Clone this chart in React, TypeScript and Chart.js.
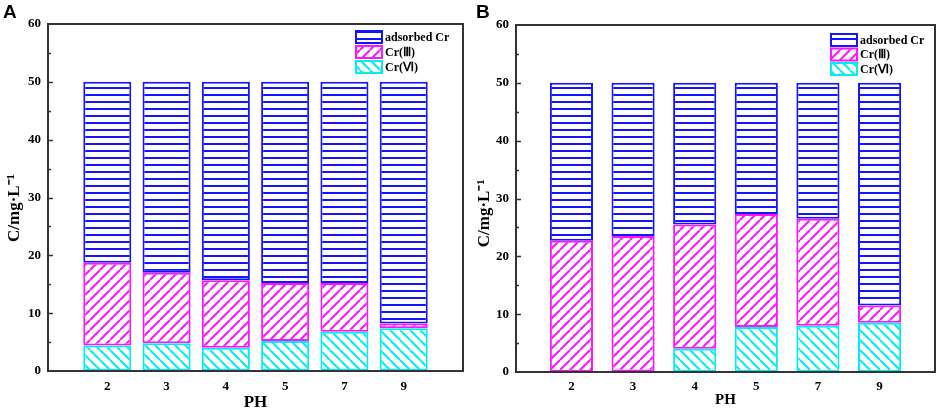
import { useEffect, useRef } from 'react';
import { Chart, registerables } from 'chart.js';

Chart.register(...registerables);

const PH = ['2', '3', '4', '5', '7', '9'];
const LABELS = ['adsorbed Cr', 'Cr(Ⅲ)', 'Cr(Ⅵ)'];

// panel A (mg/L)
const A_CR6 = [4.4, 4.8, 4.0, 5.2, 6.8, 7.4];
const A_CR3 = [14.3, 12.2, 11.7, 10.0, 8.4, 0.8];
const A_ADS = [31.3, 33.0, 34.3, 34.8, 34.8, 41.8];

// panel B (mg/L)
const B_CR6 = [0, 0.1, 4.0, 7.8, 8.0, 8.5];
const B_CR3 = [22.7, 23.4, 21.5, 19.5, 18.5, 3.0];
const B_ADS = [27.3, 26.5, 24.5, 22.7, 23.5, 38.5];

const BLUE = '#1414ff';
const MAGENTA = '#ff14ff';
const CYAN = '#00eef2';
const SERIF = '"Liberation Serif", "Times New Roman", serif';

function makePattern(kind: string, color: string) {
  const c = document.createElement('canvas');
  const s = kind === 'h' ? 7 : 10;
  c.width = kind === 'h' ? 8 : s;
  c.height = s;
  const g = c.getContext('2d')!;
  g.fillStyle = '#fff';
  g.fillRect(0, 0, c.width, c.height);
  if (kind === 'h') {
    g.fillStyle = color;
    g.fillRect(0, 3, 8, 2);
  } else {
    g.strokeStyle = color;
    g.lineWidth = 2;
    g.beginPath();
    for (const k of [-1, 0, 1]) {
      if (kind === 'slash') {
        g.moveTo(k * s, s);
        g.lineTo(k * s + s, 0);
      } else {
        g.moveTo(k * s, 0);
        g.lineTo(k * s + s, s);
      }
    }
    g.stroke();
  }
  return g.createPattern(c, 'repeat')!;
}

type PanelProps = {
  letter: string;
  letterX: number;
  width: number;
  cr6: number[];
  cr3: number[];
  ads: number[];
  left: number;
  top: number;
  right: number;
  bottom: number;
  xMin: number;
  xMax: number;
  barPct: number;
  legDx: number;
  legDy: number;
  legStep: number;
  xTitleSize: number;
  xTitlePad: number;
  xTickPad: number;
  yTitlePad: number;
};

function Panel(p: PanelProps) {
  const ref = useRef<HTMLCanvasElement>(null);

  useEffect(() => {
    if (!ref.current) return;
    const patAds = makePattern('h', BLUE);
    const pat3 = makePattern('slash', MAGENTA);
    const pat6 = makePattern('back', CYAN);
    const toXY = (arr: number[]) => arr.map((v, i) => ({ x: i, y: v }));

    const legendItems = [
      { text: LABELS[0], fill: patAds, color: BLUE },
      { text: LABELS[1], fill: pat3, color: MAGENTA },
      { text: LABELS[2], fill: pat6, color: CYAN },
    ];

    const framePlugin = {
      id: 'frame',
      afterDatasetsDraw(chart: any) {
        const { ctx, chartArea: a, scales } = chart;
        ctx.save();
        ctx.strokeStyle = '#333';
        ctx.lineWidth = 2;
        ctx.strokeRect(a.left, a.top, a.right - a.left, a.bottom - a.top);
        ctx.lineWidth = 1.5;
        ctx.beginPath();
        for (let v = 5; v < 60; v += 5) {
          const y = Math.round(scales.y.getPixelForValue(v)) + 0.5;
          ctx.moveTo(a.left, y);
          ctx.lineTo(a.left + (v % 10 === 0 ? 5 : 3), y);
        }
        ctx.stroke();

        // legend
        ctx.font = 'bold 12px ' + SERIF;
        ctx.textBaseline = 'middle';
        legendItems.forEach((it, i) => {
          const x = a.right - p.legDx;
          const y = a.top + p.legDy + i * p.legStep;
          ctx.fillStyle = it.fill;
          ctx.fillRect(x, y, 26, 12);
          ctx.strokeStyle = it.color;
          ctx.lineWidth = 2;
          ctx.strokeRect(x, y, 26, 12);
          ctx.fillStyle = '#000';
          ctx.fillText(it.text, x + 29, y + 6.5);
        });

        // panel letter
        ctx.fillStyle = '#000';
        ctx.font = 'bold 19px "Liberation Sans", Arial, sans-serif';
        ctx.textBaseline = 'alphabetic';
        ctx.fillText(p.letter, p.letterX, 18);
        ctx.restore();
      },
    };

    const common = {
      borderWidth: 2,
      borderSkipped: false,
      categoryPercentage: 1,
      barPercentage: p.barPct,
    };

    const chart = new Chart(ref.current, {
      type: 'bar',
      data: {
        datasets: [
          { label: LABELS[2], data: toXY(p.cr6), backgroundColor: pat6, borderColor: CYAN, ...common },
          { label: LABELS[1], data: toXY(p.cr3), backgroundColor: pat3, borderColor: MAGENTA, ...common },
          { label: LABELS[0], data: toXY(p.ads), backgroundColor: patAds, borderColor: BLUE, ...common },
        ] as any,
      },
      options: {
        responsive: false,
        animation: false,
        layout: { padding: { left: 0, top: p.top, right: p.right, bottom: 0 } },
        plugins: { legend: { display: false }, tooltip: { enabled: false } },
        scales: {
          x: {
            type: 'linear',
            offset: false,
            min: p.xMin,
            max: p.xMax,
            stacked: true,
            grid: { display: false, drawTicks: false, offset: false },
            border: { display: false },
            afterBuildTicks: (s: any) => {
              s.ticks = PH.map((_, i) => ({ value: i }));
            },
            afterFit: (s: any) => {
              s.height = p.bottom;
            },
            ticks: {
              autoSkip: false,
              maxRotation: 0,
              padding: p.xTickPad,
              color: '#000',
              font: { family: SERIF, size: 13, weight: 'bold' },
              callback: (v: any) => PH[v] ?? '',
            },
            title: {
              display: true,
              text: 'PH',
              color: '#000',
              font: { family: SERIF, size: p.xTitleSize, weight: 'bold', lineHeight: 1 },
              padding: { top: 0, bottom: p.xTitlePad },
            },
          },
          y: {
            min: 0,
            max: 60,
            stacked: true,
            grid: { display: false, drawTicks: false },
            border: { display: false },
            afterFit: (s: any) => {
              s.width = p.left;
            },
            ticks: {
              stepSize: 10,
              padding: 7,
              color: '#000',
              font: { family: SERIF, size: 13, weight: 'bold' },
            },
            title: {
              display: true,
              // trailing spaces push the title down a little, as in the source figure
              text: 'C/mg·L⁻¹' + '\u00a0'.repeat(p.yTitlePad),
              color: '#000',
              font: { family: SERIF, size: 17, weight: 'bold' },
              padding: { top: 4, bottom: 0 },
            },
          },
        },
      } as any,
      plugins: [framePlugin],
    });

    return () => {
      chart.destroy();
    };
  }, []);

  return <canvas ref={ref} width={p.width} height={411} style={{ display: 'block' }}></canvas>;
}

export default function App() {
  return (
    <div style={{ position: 'fixed', left: 0, top: 0, width: 941, height: 411, display: 'flex', background: '#fff' }}>
      <Panel
        letter="A" letterX={3} width={470}
        cr6={A_CR6} cr3={A_CR3} ads={A_ADS}
        left={48} top={24} right={7} bottom={40}
        xMin={-1} xMax={6} barPct={0.81}
        legDx={107} legDy={7} legStep={15}
        xTitleSize={17} xTitlePad={0} xTickPad={8}
        yTitlePad={5}
      />
      <Panel
        letter="B" letterX={6} width={471}
        cr6={B_CR6} cr3={B_CR3} ads={B_ADS}
        left={46} top={25} right={6} bottom={39}
        xMin={-0.9} xMax={5.9} barPct={0.7}
        legDx={104} legDy={9} legStep={14.5}
        xTitleSize={15} xTitlePad={3} xTickPad={7}
        yTitlePad={7}
      />
    </div>
  );
}
